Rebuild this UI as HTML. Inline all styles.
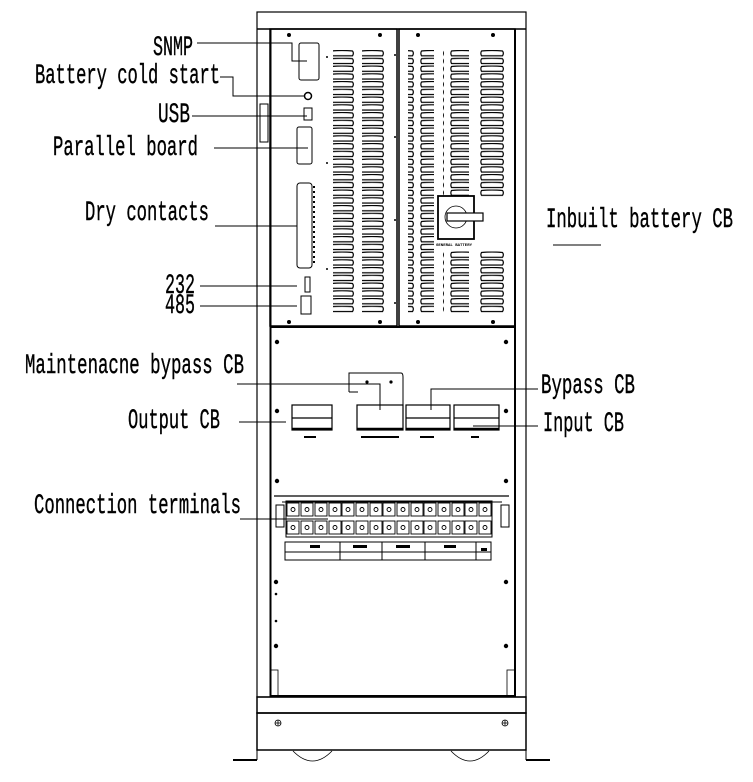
<!DOCTYPE html>
<html><head><meta charset="utf-8"><style>
html,body{margin:0;padding:0;background:#fff;}
svg{display:block}
text{font-family:"Liberation Mono","DejaVu Sans Mono",monospace;font-size:28px;fill:#000;stroke:#000;stroke-width:0.4}
</style></head><body>
<svg width="753" height="782" viewBox="0 0 753 782" xmlns="http://www.w3.org/2000/svg">
<defs>
<pattern id="lv" x="0" y="50" width="30" height="7.75" patternUnits="userSpaceOnUse">
<path d="M1.5 1 Q12 0 22.5 1 Q24.2 3.2 22.5 5.8 L1.5 5.8 Q0.2 3.2 1.5 1Z" fill="none" stroke="#000" stroke-width="1.2"/>
</pattern>
</defs>
<g fill="none" stroke="#000">
<rect x="257" y="12" width="269" height="685" stroke-width="1.2"/>
<line x1="257" y1="29" x2="526" y2="29" stroke-width="1.5"/>
<line x1="270.5" y1="29" x2="270.5" y2="697" stroke-width="2"/>
<line x1="515" y1="29" x2="515" y2="697" stroke-width="2"/>
<rect x="270" y="29" width="127" height="297" stroke-width="1.5"/>
<rect x="399" y="29" width="116" height="297" stroke-width="1.5"/>
<line x1="270" y1="327" x2="515" y2="327" stroke-width="2"/>
<rect x="257" y="697" width="269" height="16" stroke-width="1.5"/>
<line x1="270" y1="696" x2="515" y2="696" stroke-width="2"/>
<rect x="257" y="713" width="269" height="37" stroke-width="1.5"/>
<line x1="233" y1="760" x2="257" y2="760" stroke-width="2"/>
<line x1="526" y1="760" x2="550" y2="760" stroke-width="2"/>
<line x1="257" y1="750" x2="257" y2="760" stroke-width="1"/>
<line x1="526" y1="750" x2="526" y2="760" stroke-width="1"/>
<path d="M293 751 Q312.5 771 332 751" stroke-width="0.8"/>
<path d="M451 751 Q470 771 489 751" stroke-width="0.8"/>
<rect x="270" y="670" width="8" height="26" stroke-width="0.8"/>
<rect x="507" y="670" width="8" height="26" stroke-width="0.8"/>
</g>
<rect x="333" y="50" width="26" height="263" fill="url(#lv)"/>
<rect x="362" y="50" width="26" height="263" fill="url(#lv)"/>
<rect x="408" y="50" width="26" height="263" fill="url(#lv)"/>
<rect x="443" y="50" width="26" height="147" fill="url(#lv)"/>
<rect x="478" y="50" width="26" height="147" fill="url(#lv)"/>
<rect x="443" y="251" width="26" height="62" fill="url(#lv)"/>
<rect x="478" y="251" width="26" height="62" fill="url(#lv)"/>
<g fill="none" stroke="#000">
<rect x="438" y="196" width="36" height="43" stroke-width="1.8"/>
<circle cx="456" cy="217" r="11" stroke-width="0.8"/>
<rect x="447" y="213" width="36" height="8" fill="#fff" stroke-width="1.2"/>
</g>
<text x="436" y="246" style="font-size:4px;font-weight:bold;stroke-width:0">GENERAL BATTERY</text>
<g fill="#000">
<circle cx="289" cy="35" r="2"/><circle cx="380" cy="35" r="2"/><circle cx="418" cy="35" r="2"/><circle cx="493" cy="35" r="2"/>
<circle cx="289" cy="322" r="2"/><circle cx="380" cy="322" r="2"/><circle cx="418" cy="322" r="2"/><circle cx="493" cy="322" r="2"/>
<circle cx="277" cy="342" r="2.2"/><circle cx="506" cy="342" r="2.2"/>
<circle cx="277" cy="411" r="2.2"/><circle cx="506" cy="411" r="2.2"/>
<circle cx="277" cy="481" r="2.2"/><circle cx="506" cy="481" r="2.2"/>
<circle cx="276" cy="582" r="2.2"/><circle cx="506" cy="582" r="2.2"/>
<circle cx="276" cy="646" r="2.2"/><circle cx="506" cy="646" r="2.2"/>
<circle cx="276" cy="594" r="1.3"/><circle cx="276" cy="621" r="1.3"/>
<circle cx="395" cy="55" r="1"/><circle cx="395" cy="137" r="1"/><circle cx="395" cy="220" r="1"/><circle cx="395" cy="303" r="1"/>
<circle cx="327" cy="57" r="1"/><circle cx="327" cy="163" r="1"/><circle cx="327" cy="269" r="1"/>
</g>
<g fill="none" stroke="#000" stroke-width="1">
<rect x="299" y="43" width="20" height="37" rx="2"/>
<circle cx="308" cy="96" r="3.5" stroke-width="1.5"/>
<rect x="304" y="108" width="8" height="12"/>
<rect x="297" y="127" width="15" height="37" rx="2"/>
<rect x="297" y="183" width="15" height="85" rx="3"/>
<rect x="305" y="277" width="5" height="15"/>
<rect x="301" y="296" width="10" height="18"/>
<rect x="260" y="104" width="8" height="38"/>
<line x1="314" y1="186" x2="314" y2="265" stroke-dasharray="2 3" stroke-width="2"/>
</g>
<g fill="none" stroke="#000">
<path d="M349 392 V373 H401 Q403 373 403 377 V425" stroke-width="1"/>
<line x1="349" y1="392" x2="358" y2="392" stroke-width="1"/>
<g stroke-width="1.2">
<rect x="292" y="405" width="40" height="25"/><line x1="292" y1="418" x2="332" y2="418"/>
<rect x="357" y="405" width="46" height="25"/>
<rect x="406" y="405" width="44" height="25"/><line x1="406" y1="418" x2="450" y2="418"/>
<rect x="454" y="405" width="45" height="25"/><line x1="454" y1="418" x2="499" y2="418"/>
</g>
<g stroke-width="2.5">
<line x1="292" y1="429" x2="332" y2="429"/><line x1="357" y1="429" x2="403" y2="429"/>
<line x1="406" y1="429" x2="450" y2="429"/><line x1="454" y1="429" x2="499" y2="429"/>
</g>
</g>
<g fill="#000"><circle cx="367" cy="382" r="1.6"/><circle cx="391" cy="382" r="1.6"/>
<rect x="304" y="436" width="12" height="2"/><rect x="361" y="436" width="38" height="2"/><rect x="420" y="436" width="14" height="2"/><rect x="471" y="436" width="8" height="2"/></g>
<g fill="none" stroke="#000" stroke-width="1">
<path d="M274 496 H509" stroke-width="1.2"/>
<rect x="276" y="505" width="8" height="22"/><rect x="501" y="505" width="8" height="22"/>
<line x1="282" y1="502" x2="502" y2="502"/>
<rect x="286" y="501" width="206" height="36"/>
<rect x="285" y="542" width="206" height="18"/>
<line x1="285" y1="552" x2="491" y2="552"/>
<line x1="340" y1="542" x2="340" y2="560"/><line x1="382" y1="542" x2="382" y2="560"/><line x1="425" y1="542" x2="425" y2="560"/><line x1="476" y1="542" x2="476" y2="560"/>
</g>
<g fill="#000"><rect x="310" y="545" width="10" height="3"/><rect x="353" y="545" width="14" height="3"/><rect x="396" y="545" width="14" height="3"/><rect x="444" y="545" width="12" height="3"/><rect x="481" y="548" width="6" height="3"/></g>
<g id="trow" fill="none" stroke="#000" stroke-width="0.9">
<rect x="287" y="503" width="12" height="13"/><rect x="301" y="503" width="12" height="13"/><rect x="315" y="503" width="12" height="13"/><rect x="329" y="503" width="12" height="13"/><rect x="342" y="503" width="12" height="13"/><rect x="356" y="503" width="12" height="13"/><rect x="370" y="503" width="12" height="13"/><rect x="383" y="503" width="12" height="13"/><rect x="397" y="503" width="12" height="13"/><rect x="411" y="503" width="12" height="13"/><rect x="424" y="503" width="12" height="13"/><rect x="438" y="503" width="12" height="13"/><rect x="452" y="503" width="12" height="13"/><rect x="465" y="503" width="12" height="13"/><rect x="479" y="503" width="12" height="13"/>
<circle cx="293" cy="509.5" r="2"/><circle cx="307" cy="509.5" r="2"/><circle cx="321" cy="509.5" r="2"/><circle cx="335" cy="509.5" r="2"/><circle cx="348" cy="509.5" r="2"/><circle cx="362" cy="509.5" r="2"/><circle cx="376" cy="509.5" r="2"/><circle cx="389" cy="509.5" r="2"/><circle cx="403" cy="509.5" r="2"/><circle cx="417" cy="509.5" r="2"/><circle cx="430" cy="509.5" r="2"/><circle cx="444" cy="509.5" r="2"/><circle cx="458" cy="509.5" r="2"/><circle cx="471" cy="509.5" r="2"/><circle cx="485" cy="509.5" r="2"/>
</g>
<use href="#trow" y="18"/>
<g fill="none" stroke="#000" stroke-width="1">
<path d="M197 43 H292 V61 H307"/>
<path d="M220 77 H233 V96 H305"/>
<path d="M192 116 H307"/>
<path d="M214 148 H308"/>
<path d="M215 226 H297"/>
<path d="M200 286 H297"/>
<path d="M200 306 H297"/>
<path d="M237 384 H380 V410"/>
<path d="M239 422 H286"/>
<path d="M240 519 H328"/>
<path d="M431 410 V389 H538"/>
<path d="M473 426 H538"/>
<path d="M553 245 H601"/>
</g>
<text x="153" y="55" textLength="40" lengthAdjust="spacingAndGlyphs">SNMP</text>
<text x="35" y="83" textLength="185" lengthAdjust="spacingAndGlyphs">Battery cold start</text>
<text x="158" y="122" textLength="32" lengthAdjust="spacingAndGlyphs">USB</text>
<text x="53" y="155" textLength="145" lengthAdjust="spacingAndGlyphs">Parallel board</text>
<text x="85" y="220" textLength="124" lengthAdjust="spacingAndGlyphs">Dry contacts</text>
<text x="165" y="293" textLength="30" lengthAdjust="spacingAndGlyphs">232</text>
<text x="165" y="313" textLength="30" lengthAdjust="spacingAndGlyphs">485</text>
<text x="25" y="373" textLength="219" lengthAdjust="spacingAndGlyphs">Maintenacne bypass CB</text>
<text x="128" y="428" textLength="92" lengthAdjust="spacingAndGlyphs">Output CB</text>
<text x="34" y="513" textLength="207" lengthAdjust="spacingAndGlyphs">Connection terminals</text>
<text x="546" y="227" textLength="187" lengthAdjust="spacingAndGlyphs">Inbuilt battery CB</text>
<text x="541" y="393" textLength="94" lengthAdjust="spacingAndGlyphs">Bypass CB</text>
<text x="543" y="431" textLength="81" lengthAdjust="spacingAndGlyphs">Input CB</text>
<g fill="none" stroke="#000" stroke-width="0.8">
<circle cx="278" cy="723" r="3"/><line x1="275" y1="723" x2="281" y2="723"/><line x1="278" y1="720" x2="278" y2="726"/>
<circle cx="505" cy="723" r="3"/><line x1="502" y1="723" x2="508" y2="723"/><line x1="505" y1="720" x2="505" y2="726"/>
</g>
</svg>
</body></html>
